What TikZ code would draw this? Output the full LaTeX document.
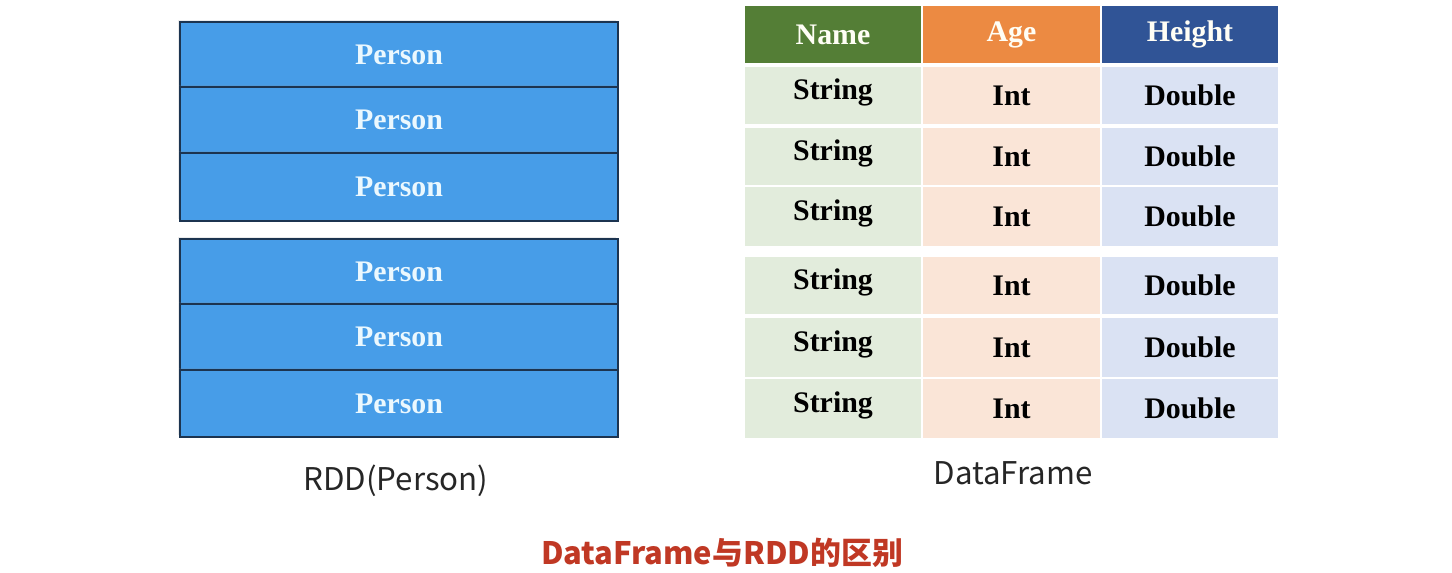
\documentclass[tikz,border=0pt]{standalone}
\usepackage{fontspec}
\setmainfont{Liberation Serif}
\newfontfamily\cjkfont{Noto Sans CJK SC}
\usetikzlibrary{
    positioning,
    shadows
    }

\definecolor{personblue}{RGB}{71,157,232}
\definecolor{personline}{RGB}{28,52,80}
\definecolor{namehead}{RGB}{84,126,54}
\definecolor{agehead}{RGB}{236,138,66}
\definecolor{heighthead}{RGB}{48,84,150}
\definecolor{namecell}{RGB}{226,236,220}
\definecolor{agecell}{RGB}{250,229,215}
\definecolor{heightcell}{RGB}{218,226,243}
\definecolor{titlered}{RGB}{192,56,36}

\begin{document}
\begin{tikzpicture}[x=0.02cm, y=-0.02cm]
\tikzset{person/.style =
        {
            fill=personblue,
            draw=personline,
            line width=0.8pt,
            drop shadow={shadow xshift=-0.4mm, shadow yshift=0.4mm, opacity=0.15}
        }
}

\tikzset{persontext/.style =
        {
            text=cyan!8!white,
            font=\fontsize{17}{20}\selectfont\bfseries
        }
}

\tikzset{headtext/.style =
        {
            text=yellow!4!white,
            font=\fontsize{17}{20}\selectfont\bfseries
        }
}

\tikzset{celltext/.style =
        {
            text=black,
            font=\fontsize{17}{20}\selectfont\bfseries
        }
}

\tikzset{caption/.style =
        {
            text=black!85,
            font=\cjkfont\fontsize{17.8}{21}\selectfont
        }
}

\tikzset{title/.style =
        {
            text=titlered,
            font=\cjkfont\fontsize{17.6}{21}\selectfont\bfseries
        }
}

    \useasboundingbox (0,0) rectangle (1452,572);

    % RDD side
    \foreach \n / \top / \bot in
        {1/22/87,
            2/87/153,
            3/153/221,
            4/239/304,
            5/304/370,
            6/370/437}
    \draw[person] (180,\top) rectangle (618,\bot)
        node[midway, persontext] (person-\n) {Person};

    % DataFrame side
    \foreach \col / \xa / \xb / \hd / \typ / \sh in
        {name/745/921/Name/String/2,
            age/923/1100/Age/Int/0,
            height/1102/1278/Height/Double/0}
    {
        \path[fill=\col head] (\xa,6) rectangle (\xb,63)
            node[midway, headtext] (head-\col) {\hd};
        \foreach \r / \ya / \yb in
            {1/67/124,
                2/128/185,
                3/187/246,
                4/257/314,
                5/318/377,
                6/379/438}
        \path[fill=\col cell] (\xa,\ya) rectangle (\xb,\yb)
            node[midway, celltext, yshift=\sh pt] (\col-\r) {\typ};
    }

    \node[caption] (rdd-label) at (396,481) {RDD(Person)};
    \node[caption] (df-label) at (1013,473) {DataFrame};
    \node[title] (title) at (722,553) {DataFrame与RDD的区别};

\end{tikzpicture}
\end{document}
